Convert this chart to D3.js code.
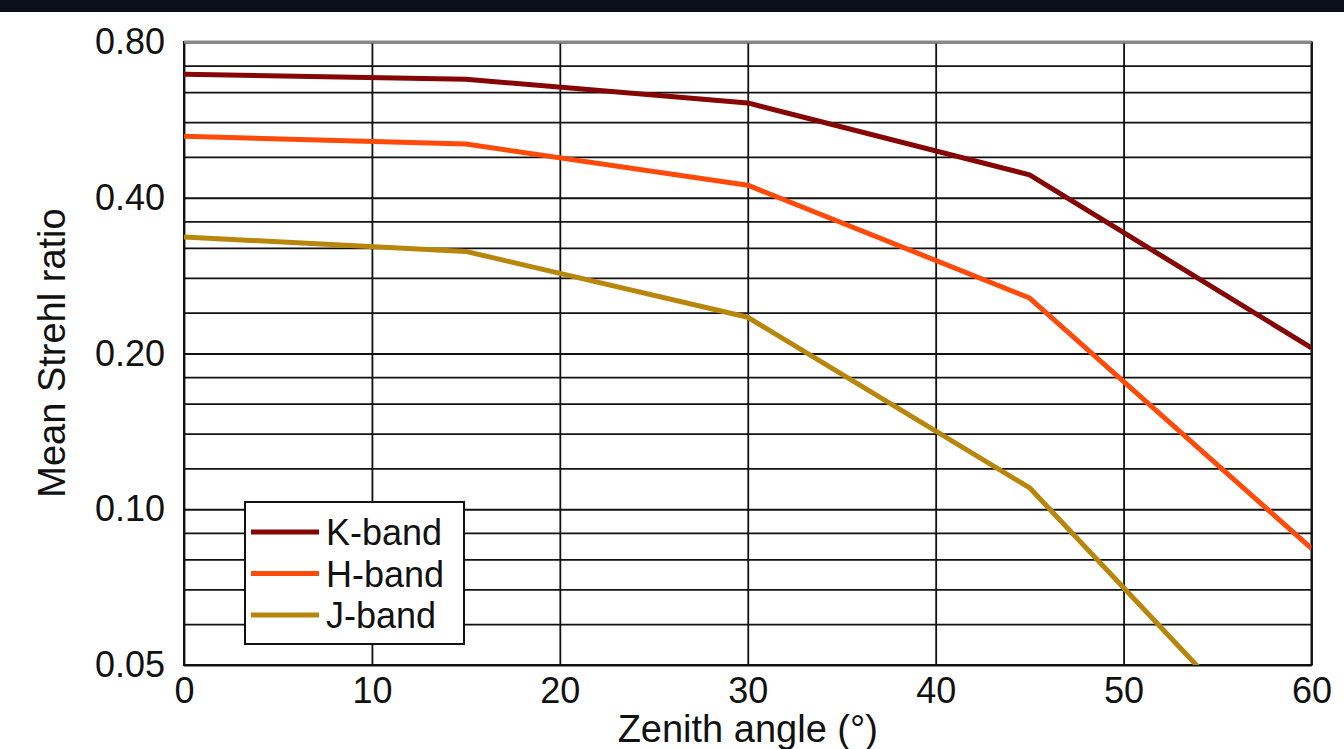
<!DOCTYPE html>
<html>
<head>
<meta charset="utf-8">
<script src="https://cdn.jsdelivr.net/npm/d3@7"></script>
<style>
  body { margin: 0; background: #fff; }
  text { font-family: "Liberation Sans", Arial, Helvetica, sans-serif; fill: #111; }
</style>
</head>
<body>
<svg id="chart" width="1344" height="749"></svg>
<script>
// zenith angle (deg) where each band was sampled
var angles = [0, 15, 30, 45, 60];

// mean Strehl ratio per band
var kBand = [0.693, 0.678, 0.610, 0.443, 0.205];
var hBand = [0.526, 0.508, 0.423, 0.256, 0.084];
var jBand = [0.336, 0.315, 0.235, 0.110, 0.029];

var xTicks = [0, 10, 20, 30, 40, 50, 60];
var yTicks = [0.05, 0.10, 0.20, 0.40, 0.80];
// minor grid: four steps inside each octave
var yGrid = [0.05, 0.06, 0.07, 0.08, 0.09, 0.10, 0.12, 0.14, 0.16, 0.18,
             0.20, 0.24, 0.28, 0.32, 0.36, 0.40, 0.48, 0.56, 0.64, 0.72, 0.80];

(function() {

var series = [
  {name: "K-band", values: kBand, color: "#860606"},
  {name: "H-band", values: hBand, color: "#ff4a0a"},
  {name: "J-band", values: jBand, color: "#b8860b"}
];

var svg = d3.select("#chart");

// dark strip along the top edge of the scan
svg.append("rect")
  .attr("x", 0).attr("y", 0)
  .attr("width", 1344).attr("height", 12)
  .attr("fill", "#0b0f1c");

var pLeft = 184, pRight = 1311.5, pTop = 42, pBottom = 665;

var x = d3.scaleLinear().domain([0, 60]).range([pLeft, pRight]);
var y = d3.scaleLog().domain([0.05, 0.80]).range([pBottom, pTop]);

// horizontal grid
svg.append("g")
  .attr("transform", "translate(" + pLeft + ",0)")
  .call(d3.axisLeft(y).tickValues(yGrid).tickSize(-(pRight - pLeft)).tickFormat(""))
  .call(function(g) {
    g.select(".domain").remove();
    g.selectAll("line").attr("stroke", "#111").attr("stroke-width", 1.8);
  });

// vertical grid
svg.append("g")
  .attr("transform", "translate(0," + pBottom + ")")
  .call(d3.axisBottom(x).tickValues(xTicks).tickSize(-(pBottom - pTop)).tickFormat(""))
  .call(function(g) {
    g.select(".domain").remove();
    g.selectAll("line").attr("stroke", "#111").attr("stroke-width", 1.8);
  });

// frame, the top edge looks greyer in the original
svg.append("rect")
  .attr("x", pLeft).attr("y", pTop)
  .attr("width", pRight - pLeft).attr("height", pBottom - pTop)
  .attr("fill", "none").attr("stroke", "#111").attr("stroke-width", 2);
svg.append("line")
  .attr("x1", pLeft).attr("x2", pRight).attr("y1", pTop).attr("y2", pTop)
  .attr("stroke", "#888").attr("stroke-width", 3);

// tick labels
svg.append("g")
  .attr("transform", "translate(" + pLeft + ",0)")
  .call(d3.axisLeft(y).tickValues(yTicks).tickSize(0).tickPadding(19).tickFormat(d3.format(".2f")))
  .call(function(g) {
    g.select(".domain").remove();
    g.selectAll("text").style("font-size", "36px").attr("fill", "#111")
      .style("font-family", "'Liberation Sans', Arial, sans-serif");
  });

svg.append("g")
  .attr("transform", "translate(0," + pBottom + ")")
  .call(d3.axisBottom(x).tickValues(xTicks).tickSize(0).tickPadding(12))
  .call(function(g) {
    g.select(".domain").remove();
    g.selectAll("text").style("font-size", "36px").attr("fill", "#111")
      .style("font-family", "'Liberation Sans', Arial, sans-serif");
  });

// axis titles
svg.append("text")
  .attr("x", x(30)).attr("y", 742)
  .attr("text-anchor", "middle")
  .style("font-size", "38px")
  .text("Zenith angle (°)");

svg.append("text")
  .attr("transform", "translate(65,353) rotate(-90)")
  .attr("text-anchor", "middle")
  .style("font-size", "38px")
  .text("Mean Strehl ratio");

// data lines, clipped to the plot
svg.append("clipPath").attr("id", "plot-clip")
  .append("rect")
  .attr("x", pLeft).attr("y", pTop)
  .attr("width", pRight - pLeft).attr("height", pBottom - pTop);

var line = d3.line()
  .x(function(d, i) { return x(angles[i]); })
  .y(function(d) { return y(d); });

svg.append("g")
  .attr("clip-path", "url(#plot-clip)")
  .selectAll("path")
  .data(series)
  .enter()
  .append("path")
  .attr("d", function(s) { return line(s.values); })
  .attr("fill", "none")
  .attr("stroke", function(s) { return s.color; })
  .attr("stroke-width", 5)
  .attr("stroke-linejoin", "round");

// legend
var legend = svg.append("g").attr("transform", "translate(245,502)");

legend.append("rect")
  .attr("width", 219).attr("height", 142)
  .attr("fill", "#fff").attr("stroke", "#111").attr("stroke-width", 2);

var rows = legend.selectAll("g.row")
  .data(series)
  .enter()
  .append("g")
  .attr("class", "row")
  .attr("transform", function(d, i) { return "translate(0," + (30 + i * 41.5) + ")"; });

rows.append("line")
  .attr("x1", 6).attr("x2", 74)
  .attr("stroke", function(d) { return d.color; })
  .attr("stroke-width", 5);

rows.append("text")
  .attr("x", 81).attr("y", 13)
  .style("font-size", "36px")
  .text(function(d) { return d.name; });

})();
</script>
</body>
</html>
